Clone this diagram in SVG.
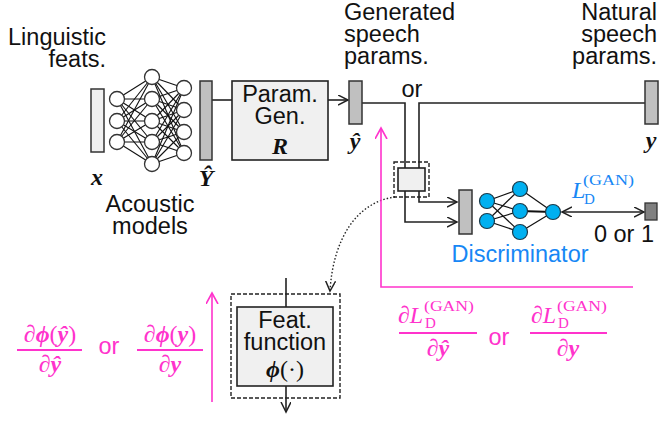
<svg xmlns="http://www.w3.org/2000/svg" width="661" height="422" viewBox="0 0 661 422">
<style>
.t{font-family:"Liberation Sans",Arial,sans-serif;font-size:23.5px;fill:#111}
.m{font-family:"Liberation Serif","DejaVu Serif",serif;font-size:24px}
.bi{font-weight:bold;font-style:italic}
.it{font-style:italic}
.sm{font-size:15px}
.ln{stroke:#222;stroke-width:1.6;fill:none}
.mg{stroke:#ff33cc;stroke-width:1.6;fill:none}
.nn{fill:#fff;stroke:#333;stroke-width:1.3}
.dn{fill:#00b0f0;stroke:#1a3a4a;stroke-width:1.2}
.lw{stroke:#111;stroke-width:1.1}
.bar{fill:#c0c0c0;stroke:#333;stroke-width:1.5}
.box{fill:#f0f0f0;stroke:#222;stroke-width:1.6}
.dash{fill:none;stroke:#222;stroke-width:1.4;stroke-dasharray:4,2}
.mf{fill:#ff33cc}
.bl{fill:#1787f5}
</style>
<defs>
<marker id="ah" markerWidth="12" markerHeight="12" refX="10" refY="5" orient="auto" markerUnits="userSpaceOnUse"><path d="M0,0 L10,5 L0,10" fill="none" stroke="#222" stroke-width="1.5"/></marker>
<marker id="ahs" markerWidth="12" markerHeight="12" refX="10" refY="5" orient="auto-start-reverse" markerUnits="userSpaceOnUse"><path d="M0,0 L10,5 L0,10" fill="none" stroke="#222" stroke-width="1.5"/></marker>
<marker id="am" markerWidth="14" markerHeight="14" refX="11" refY="6" orient="auto" markerUnits="userSpaceOnUse"><path d="M0,0 L11,6 L0,12" fill="none" stroke="#ff33cc" stroke-width="1.6"/></marker>
</defs>

<g id="connectors">
<line class="ln" x1="212" y1="100" x2="232" y2="100"/>
<line class="ln" x1="328" y1="100" x2="348" y2="100" marker-end="url(#ah)"/>
<polyline class="ln" points="362,103 405,103 405,168"/>
<polyline class="ln" points="645,103 419,103 419,168"/>
<polyline class="ln" points="405,191 405,222 457,222" marker-end="url(#ah)"/>
<polyline class="ln" points="419,191 419,202 457,202" marker-end="url(#ah)"/>
<line class="ln" x1="562" y1="212" x2="644" y2="212" marker-start="url(#ahs)" marker-end="url(#ah)"/>
<line class="ln" x1="286" y1="278" x2="286" y2="307"/>
<line class="ln" x1="286" y1="386" x2="286" y2="412" marker-end="url(#ah)"/>
<path d="M395,197 C356,202 333,240 330,291" fill="none" stroke="#222" stroke-width="1.4" stroke-dasharray="1.5,2" marker-end="url(#ah)"/>
<polyline class="mg" points="633,287 381,287 381,128" marker-end="url(#am)"/>
<line class="mg" x1="212" y1="402" x2="212" y2="293" marker-end="url(#am)"/>
</g>

<g id="labels-top">
<text class="t" x="106" y="45" text-anchor="end">Linguistic</text>
<text class="t" x="106" y="67" text-anchor="end">feats.</text>
<text class="t" x="344" y="20">Generated</text>
<text class="t" x="344" y="42">speech</text>
<text class="t" x="344" y="64">params.</text>
<text class="t" x="657" y="20" text-anchor="end">Natural</text>
<text class="t" x="657" y="42" text-anchor="end">speech</text>
<text class="t" x="657" y="64" text-anchor="end">params.</text>
<text class="t" x="412" y="97" text-anchor="middle">or</text>
</g>

<g id="input-x">
<rect x="91" y="89" width="13" height="63" fill="#f0f0f0" stroke="#333" stroke-width="1.5"/>
<text class="m bi" x="97" y="185" text-anchor="middle" fill="#111">x</text>
</g>

<g id="acoustic-models">
<g class="lw">
<line x1="117" y1="99" x2="152" y2="77"/><line x1="117" y1="99" x2="152" y2="99"/><line x1="117" y1="99" x2="152" y2="121"/><line x1="117" y1="99" x2="152" y2="142"/><line x1="117" y1="99" x2="152" y2="164"/>
<line x1="117" y1="121" x2="152" y2="77"/><line x1="117" y1="121" x2="152" y2="99"/><line x1="117" y1="121" x2="152" y2="121"/><line x1="117" y1="121" x2="152" y2="142"/><line x1="117" y1="121" x2="152" y2="164"/>
<line x1="117" y1="142" x2="152" y2="77"/><line x1="117" y1="142" x2="152" y2="99"/><line x1="117" y1="142" x2="152" y2="121"/><line x1="117" y1="142" x2="152" y2="142"/><line x1="117" y1="142" x2="152" y2="164"/>
<line x1="152" y1="77" x2="184" y2="88"/><line x1="152" y1="77" x2="184" y2="110"/><line x1="152" y1="77" x2="184" y2="132"/><line x1="152" y1="77" x2="184" y2="153"/>
<line x1="152" y1="99" x2="184" y2="88"/><line x1="152" y1="99" x2="184" y2="110"/><line x1="152" y1="99" x2="184" y2="132"/><line x1="152" y1="99" x2="184" y2="153"/>
<line x1="152" y1="121" x2="184" y2="88"/><line x1="152" y1="121" x2="184" y2="110"/><line x1="152" y1="121" x2="184" y2="132"/><line x1="152" y1="121" x2="184" y2="153"/>
<line x1="152" y1="142" x2="184" y2="88"/><line x1="152" y1="142" x2="184" y2="110"/><line x1="152" y1="142" x2="184" y2="132"/><line x1="152" y1="142" x2="184" y2="153"/>
<line x1="152" y1="164" x2="184" y2="88"/><line x1="152" y1="164" x2="184" y2="110"/><line x1="152" y1="164" x2="184" y2="132"/><line x1="152" y1="164" x2="184" y2="153"/>
</g>
<circle class="nn" cx="117" cy="99" r="7.5"/><circle class="nn" cx="117" cy="121" r="7.5"/><circle class="nn" cx="117" cy="142" r="7.5"/>
<circle class="nn" cx="152" cy="77" r="7.5"/><circle class="nn" cx="152" cy="99" r="7.5"/><circle class="nn" cx="152" cy="121" r="7.5"/><circle class="nn" cx="152" cy="142" r="7.5"/><circle class="nn" cx="152" cy="164" r="7.5"/>
<circle class="nn" cx="184" cy="88" r="7.5"/><circle class="nn" cx="184" cy="110" r="7.5"/><circle class="nn" cx="184" cy="132" r="7.5"/><circle class="nn" cx="184" cy="153" r="7.5"/>
<text class="t" x="150" y="212" text-anchor="middle">Acoustic</text>
<text class="t" x="150" y="234" text-anchor="middle">models</text>
</g>

<g id="output-Y">
<rect class="bar" x="200" y="81" width="12" height="79"/>
<text class="m bi" x="206" y="186" text-anchor="middle" fill="#111">Ŷ</text>
</g>

<g id="param-gen">
<rect class="box" x="232" y="81" width="96" height="79"/>
<text class="t" x="280" y="102" text-anchor="middle">Param.</text>
<text class="t" x="280" y="124" text-anchor="middle">Gen.</text>
<text class="m bi" x="280" y="154" text-anchor="middle" fill="#111">R</text>
</g>

<g id="generated-y">
<rect class="bar" x="349" y="81" width="13" height="43"/>
<text class="m bi" x="355" y="149" text-anchor="middle" fill="#111">ŷ</text>
</g>

<g id="natural-y">
<rect class="bar" x="645" y="81" width="13" height="43"/>
<text class="m bi" x="651" y="148" text-anchor="middle" fill="#111">y</text>
</g>

<g id="switch">
<rect class="dash" x="394" y="162" width="35" height="35"/>
<rect class="box" x="398" y="168" width="27" height="23"/>
</g>

<g id="discriminator">
<rect class="bar" x="459" y="190" width="13" height="44"/>
<g stroke="#111" stroke-width="1.2">
<line x1="487" y1="201" x2="520" y2="189"/><line x1="487" y1="201" x2="520" y2="211"/><line x1="487" y1="201" x2="520" y2="232"/>
<line x1="487" y1="221" x2="520" y2="189"/><line x1="487" y1="221" x2="520" y2="211"/><line x1="487" y1="221" x2="520" y2="232"/>
<line x1="520" y1="189" x2="553" y2="212"/><line x1="520" y1="211" x2="553" y2="212" stroke-width="2"/><line x1="520" y1="232" x2="553" y2="212"/>
</g>
<circle class="dn" cx="487" cy="201" r="7.5"/><circle class="dn" cx="487" cy="221" r="7.5"/>
<circle class="dn" cx="520" cy="189" r="7.5"/><circle class="dn" cx="520" cy="211" r="7.5"/><circle class="dn" cx="520" cy="232" r="7.5"/>
<circle class="dn" cx="553" cy="212" r="7.5"/>
<text class="t bl" x="520" y="262" text-anchor="middle" style="fill:#1787f5">Discriminator</text>
<text class="m it bl" x="572" y="198">L</text>
<text class="m bl sm" x="584" y="204">D</text>
<text class="m bl sm" x="583" y="185" textLength="51" lengthAdjust="spacingAndGlyphs">(GAN)</text>
</g>

<g id="label-01">
<rect x="645" y="203" width="12" height="17" fill="#808080" stroke="#333" stroke-width="1.3"/>
<text class="t" x="654" y="242" text-anchor="end">0 or 1</text>
</g>

<g id="feat-function">
<rect class="dash" x="231" y="294" width="109" height="104"/>
<rect class="box" x="237" y="307" width="96" height="79"/>
<text class="t" x="285" y="328" text-anchor="middle">Feat.</text>
<text class="t" x="285" y="350" text-anchor="middle">function</text>
<text class="m" x="285" y="377" text-anchor="middle" fill="#111"><tspan class="bi">ϕ</tspan>(·)</text>
</g>

<g id="grad-phi" class="mf">
<text class="m mf" x="50" y="342" text-anchor="middle">∂<tspan class="bi">ϕ</tspan>(<tspan class="bi">ŷ</tspan>)</text>
<rect x="17" y="349" width="65" height="2" class="mf"/>
<text class="m mf" x="50" y="372" text-anchor="middle">∂<tspan class="bi">ŷ</tspan></text>
<text class="t mf" x="109" y="354" text-anchor="middle" style="fill:#ff33cc">or</text>
<text class="m mf" x="170" y="342" text-anchor="middle">∂<tspan class="bi">ϕ</tspan>(<tspan class="bi">y</tspan>)</text>
<rect x="137" y="349" width="66" height="2" class="mf"/>
<text class="m mf" x="170" y="372" text-anchor="middle">∂<tspan class="bi">y</tspan></text>
</g>

<g id="grad-gan" class="mf">
<text class="m mf" x="398" y="323">∂<tspan class="it">L</tspan></text>
<text class="m mf sm" x="425" y="328">D</text>
<text class="m mf sm" x="424" y="311" textLength="50" lengthAdjust="spacingAndGlyphs">(GAN)</text>
<rect x="399" y="332" width="78" height="2" class="mf"/>
<text class="m mf" x="438" y="356" text-anchor="middle">∂<tspan class="bi">ŷ</tspan></text>
<text class="t mf" x="499" y="345" text-anchor="middle" style="fill:#ff33cc">or</text>
<text class="m mf" x="531" y="323">∂<tspan class="it">L</tspan></text>
<text class="m mf sm" x="558" y="328">D</text>
<text class="m mf sm" x="557" y="311" textLength="50" lengthAdjust="spacingAndGlyphs">(GAN)</text>
<rect x="530" y="332" width="77" height="2" class="mf"/>
<text class="m mf" x="568" y="356" text-anchor="middle">∂<tspan class="bi">y</tspan></text>
</g>
</svg>
